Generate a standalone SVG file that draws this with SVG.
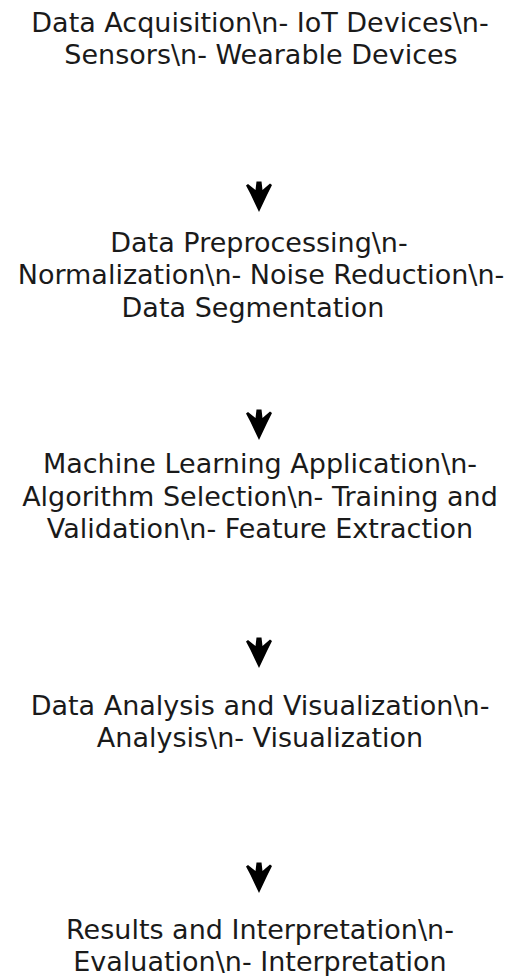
<svg xmlns="http://www.w3.org/2000/svg" xmlns:xlink="http://www.w3.org/1999/xlink" width="507" height="976" viewBox="0 0 507 976">
<style>
  .lbl { font-family: "DejaVu Sans", "Liberation Sans", sans-serif; font-size: 27px; fill: #1a1a1a; text-anchor: middle; }
  .ah { fill: #000; stroke: none; }
</style>
<defs>
  <path id="arrowhead" d="M0,0 L8.5,-18 L13,-27 L11,-28.5 L3.5,-22 L2.5,-30.5 L-2.5,-30.5 L-3.5,-22 L-11,-28 L-13,-26.5 L-8.5,-18 Z"/>
</defs>
<rect width="507" height="976" fill="#fff"/>
<g id="connectors">
  <use xlink:href="#arrowhead" href="#arrowhead" class="ah" x="259" y="212"/>
  <use xlink:href="#arrowhead" href="#arrowhead" class="ah" x="259" y="440"/>
  <use xlink:href="#arrowhead" href="#arrowhead" class="ah" x="259" y="668"/>
  <use xlink:href="#arrowhead" href="#arrowhead" class="ah" x="259" y="893"/>
</g>
<g id="node1">
  <text class="lbl" x="260" y="31.5">Data Acquisition\n- IoT Devices\n-</text>
  <text class="lbl" x="261" y="64">Sensors\n- Wearable Devices</text>
</g>
<g id="node2">
  <text class="lbl" x="259" y="251.7">Data Preprocessing\n-</text>
  <text class="lbl" x="261" y="284">Normalization\n- Noise Reduction\n-</text>
  <text class="lbl" x="253" y="316.7">Data Segmentation</text>
</g>
<g id="node3">
  <text class="lbl" x="260" y="473">Machine Learning Application\n-</text>
  <text class="lbl" x="260" y="505.7">Algorithm Selection\n- Training and</text>
  <text class="lbl" x="260" y="537.7">Validation\n- Feature Extraction</text>
</g>
<g id="node4">
  <text class="lbl" x="260" y="715">Data Analysis and Visualization\n-</text>
  <text class="lbl" x="260" y="746.7">Analysis\n- Visualization</text>
</g>
<g id="node5">
  <text class="lbl" x="260" y="939">Results and Interpretation\n-</text>
  <text class="lbl" x="260" y="971">Evaluation\n- Interpretation</text>
</g>
</svg>
